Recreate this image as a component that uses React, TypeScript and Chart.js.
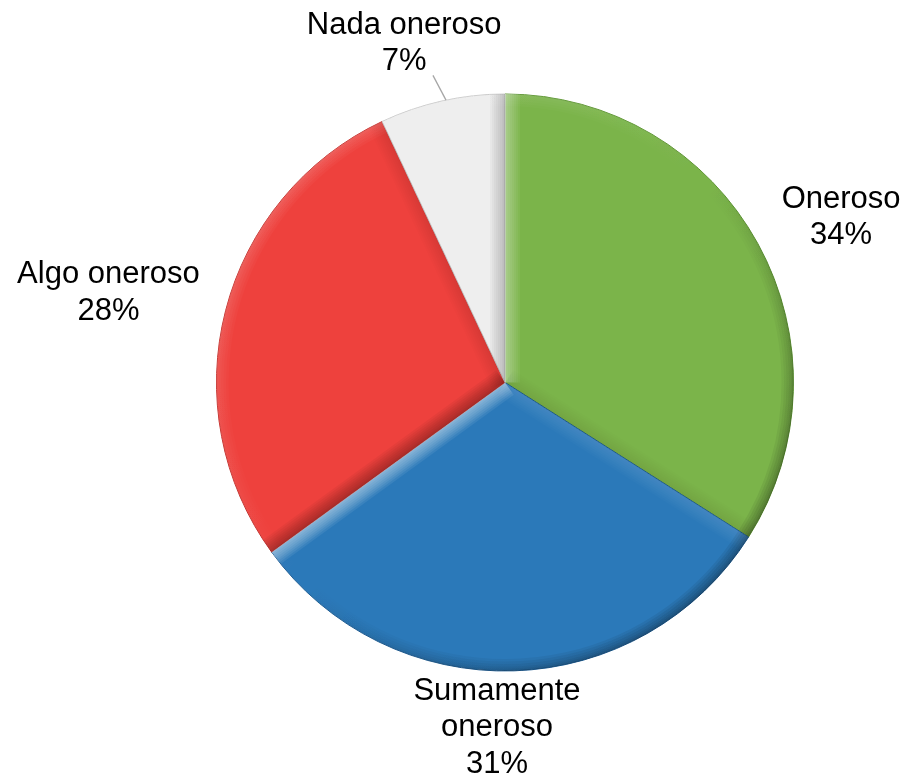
import React, { useEffect, useRef } from "react";
import { Chart, registerables } from "chart.js";

Chart.register(...registerables);

// ---- data ----
const categories = ["Oneroso", "Sumamente oneroso", "Algo oneroso", "Nada oneroso"];
const values = [34, 31, 28, 7];
const labelLines = [["Oneroso"], ["Sumamente", "oneroso"], ["Algo oneroso"], ["Nada oneroso"]];

// ---- styles ----
const sliceColors = ["#7BB44A", "#2B79B9", "#EE413D", "#EEEEEE"];
const sliceBorders = ["#5E9533", "#1F5E95", "#C32F2B", "#C9C9C9"];
// label placement (degrees of angular shift from slice middle, px beyond rim)
const labelAngleShift = [2.64, 3.13, -1.7, -3.97];
const labelGap = [86, 57, 118, 65];
const leaderSlices = [3];

const FONT = '31px "Liberation Sans", Arial, sans-serif';
const LINE_H = 36.5;
const DEG = Math.PI / 180;

function arcProps(arc: any) {
  return arc.getProps(["x", "y", "startAngle", "endAngle", "outerRadius"], true);
}

const EDGE_WIDTHS = [30, 26, 22, 18, 14, 10, 6, 3];
const RIM_WIDTHS = [24, 19, 14, 9, 5, 2];

const bevelPlugin = {
  id: "bevel",
  afterDatasetDraw(chart: any) {
    const ctx: CanvasRenderingContext2D = chart.ctx;
    const meta = chart.getDatasetMeta(0);
    const Lx = -Math.SQRT1_2, Ly = -Math.SQRT1_2;
    meta.data.forEach((arc: any) => {
      const { x, y, startAngle, endAngle, outerRadius: r } = arcProps(arc);
      ctx.save();
      ctx.beginPath();
      ctx.moveTo(x, y);
      ctx.arc(x, y, r, startAngle, endAngle);
      ctx.closePath();
      ctx.clip();
      ctx.lineCap = "butt";
      const edges = [
        { a: startAngle, sign: -1 },
        { a: endAngle, sign: 1 },
      ];
      for (const e of edges) {
        const na = e.a + (e.sign * Math.PI) / 2;
        const d = Math.cos(na) * Lx + Math.sin(na) * Ly;
        const col = d > 0 ? `rgba(255,255,255,${0.075 * d})` : `rgba(0,0,0,${0.04 * -d})`;
        for (const w of EDGE_WIDTHS) {
          ctx.strokeStyle = col;
          ctx.lineWidth = w;
          ctx.beginPath();
          ctx.moveTo(x, y);
          ctx.lineTo(x + Math.cos(e.a) * r * 1.05, y + Math.sin(e.a) * r * 1.05);
          ctx.stroke();
        }
      }
      const k = r * Math.SQRT1_2;
      const g = ctx.createLinearGradient(x - k, y - k, x + k, y + k);
      g.addColorStop(0, "rgba(255,255,255,0.03)");
      g.addColorStop(0.5, "rgba(255,255,255,0)");
      g.addColorStop(0.5, "rgba(0,0,0,0)");
      g.addColorStop(1, "rgba(0,0,0,0.07)");
      for (const w of RIM_WIDTHS) {
        ctx.strokeStyle = g;
        ctx.lineWidth = w;
        ctx.beginPath();
        ctx.arc(x, y, r, startAngle, endAngle);
        ctx.stroke();
      }
      ctx.restore();
    });
  },
};

const labelPlugin = {
  id: "sliceLabels",
  afterDraw(chart: any) {
    const ctx: CanvasRenderingContext2D = chart.ctx;
    const meta = chart.getDatasetMeta(0);
    const total = values.reduce((a, b) => a + b, 0);
    ctx.save();
    meta.data.forEach((arc: any, i: number) => {
      const { x, y, startAngle, endAngle, outerRadius: r } = arcProps(arc);
      const midRaw = (startAngle + endAngle) / 2;
      if (leaderSlices.includes(i)) {
        const a1 = midRaw + 0.8 * DEG;
        const a2 = midRaw - 0.6 * DEG;
        ctx.strokeStyle = "#A6A6A6";
        ctx.lineWidth = 1.3;
        ctx.beginPath();
        ctx.moveTo(x + Math.cos(a1) * r, y + Math.sin(a1) * r);
        ctx.lineTo(x + Math.cos(a2) * (r + 27), y + Math.sin(a2) * (r + 27));
        ctx.stroke();
      }
      const mid = midRaw + labelAngleShift[i] * DEG;
      const cx = x + Math.cos(mid) * (r + labelGap[i]);
      const cy = y + Math.sin(mid) * (r + labelGap[i]);
      const lines = [...labelLines[i], Math.round((values[i] / total) * 100) + "%"];
      ctx.font = FONT;
      ctx.fillStyle = "#000000";
      ctx.textAlign = "center";
      ctx.textBaseline = "middle";
      lines.forEach((t, kIdx) => {
        ctx.fillText(t, cx, cy + (kIdx - (lines.length - 1) / 2) * LINE_H);
      });
    });
    ctx.restore();
  },
};

export default function App() {
  const ref = useRef<HTMLCanvasElement | null>(null);
  useEffect(() => {
    if (!ref.current) return;
    const chart = new Chart(ref.current, {
      type: "pie",
      data: {
        labels: categories,
        datasets: [
          {
            data: values,
            backgroundColor: sliceColors,
            borderColor: sliceBorders,
            borderWidth: 1,
          },
        ],
      },
      options: {
        responsive: false,
        animation: false,
        layout: { padding: { left: 216, right: 109, top: 93, bottom: 105 } },
        plugins: {
          legend: { display: false },
          tooltip: { enabled: false },
        },
      },
      plugins: [bevelPlugin, labelPlugin],
    });
    return () => chart.destroy();
  }, []);
  return (
    <div style={{ position: "absolute", left: 0, top: 0, width: 903, height: 777, background: "#fff" }}>
      <canvas ref={ref} width={903} height={777} style={{ display: "block" }} />
    </div>
  );
}
